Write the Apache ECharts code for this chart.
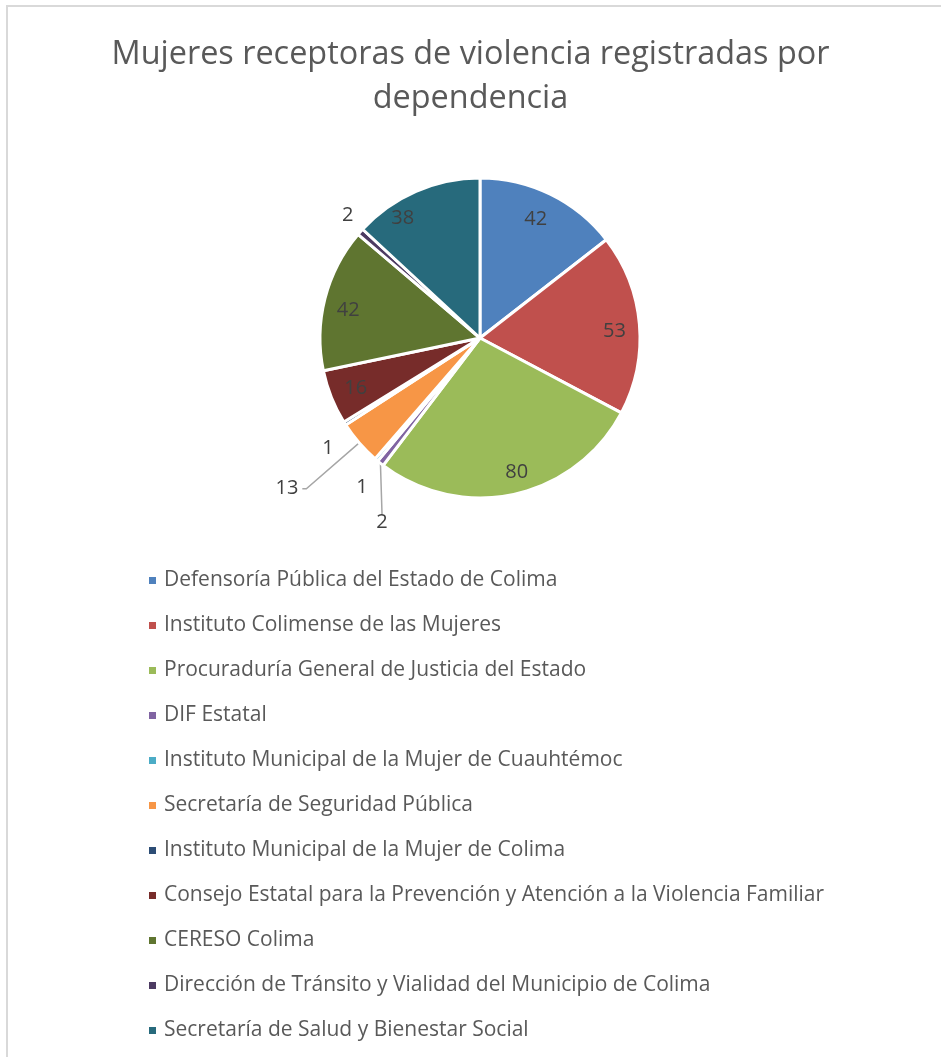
<!DOCTYPE html>
<html><head><meta charset="utf-8">
<script src="https://cdn.jsdelivr.net/npm/echarts@6/dist/echarts.min.js"></script>
<style>
html,body{margin:0;padding:0;background:#fff;}
#frame{position:absolute;left:6px;top:5px;width:935px;height:1052px;border-top:2px solid #d9d9d9;border-left:2px solid #d9d9d9;box-sizing:border-box;}
#chart{position:absolute;left:0;top:0;width:941px;height:1057px;}
</style></head><body>
<div id="frame"></div>
<div id="chart"></div>
<script>
const titleLines = ['Mujeres receptoras de violencia registradas por', 'dependencia'];
const categories = [
  'Defensoría Pública del Estado de Colima',
  'Instituto Colimense de las Mujeres',
  'Procuraduría General de Justicia del Estado',
  'DIF Estatal',
  'Instituto Municipal de la Mujer de Cuauhtémoc',
  'Secretaría de Seguridad Pública',
  'Instituto Municipal de la Mujer de Colima',
  'Consejo Estatal para la Prevención y Atención a la Violencia Familiar',
  'CERESO Colima',
  'Dirección de Tránsito y Vialidad del Municipio de Colima',
  'Secretaría de Salud y Bienestar Social'
];
const values = [42, 53, 80, 2, 1, 13, 1, 16, 42, 2, 38];
const colors = ['#4F81BD', '#C0504D', '#9BBB59', '#8064A2', '#4BACC6', '#F79646',
                '#2C4D75', '#772C2A', '#5F7530', '#4D3B62', '#276A7C'];

// layout / label placement styling (not data)
const CX = 480, CY = 338, R = 160;
const insideLabels = new Set([0, 1, 2, 7, 8, 10]);
const leaderLines = {3: {length: 30, length2: 0}, 5: {length: 70, length2: 4}};
const verticalLeader = new Set([3]);
const labelShift = {0: [-5, 5], 1: [-3, 5], 2: [7, 0], 3: [30, 36], 4: [3, 18], 6: [3, 18],
                    7: [4, -1], 8: [2, 6], 9: [6, -9], 10: [-22, 7]};

const FONT = 'Open Sans';
const chart = echarts.init(document.getElementById('chart'), null, {renderer: 'canvas'});

const total = values.reduce((a, b) => a + b, 0);
function midAngle(i) {
  let before = 0;
  for (let k = 0; k < i; k++) before += values[k];
  return (before + values[i] / 2) / total * 2 * Math.PI; // clockwise from top
}

const labelData = categories.map((name, i) => {
  const inside = insideLabels.has(i);
  const ll = leaderLines[i];
  return {
    name: name,
    value: values[i],
    label: {position: inside ? 'inside' : 'outside'},
    labelLine: ll ? {show: true, length: ll.length, length2: ll.length2} : {show: false, length: 12, length2: 0}
  };
});

chart.setOption({
  animation: false,
  color: colors,
  title: {
    text: titleLines.join('\n'),
    left: 'center',
    top: 28,
    textStyle: {fontFamily: FONT, fontSize: 32.4, fontWeight: 'normal', color: '#595959', lineHeight: 44}
  },
  legend: {
    data: categories,
    orient: 'vertical',
    left: 147,
    top: 570,
    padding: 0,
    itemWidth: 9,
    itemHeight: 9,
    itemGap: 24,
    icon: 'rect',
    selectedMode: false,
    textStyle: {fontFamily: FONT, fontSize: 21, color: '#595959', lineHeight: 21, padding: [0, 0, 0, 2]}
  },
  series: [
    {
      type: 'pie',
      center: [CX, CY],
      radius: [0, R],
      startAngle: 90,
      clockwise: true,
      avoidLabelOverlap: false,
      label: {show: false},
      labelLine: {show: false},
      emphasis: {disabled: true},
      itemStyle: {borderColor: '#ffffff', borderWidth: 3},
      data: categories.map((n, i) => ({name: n, value: values[i]}))
    },
    {
      type: 'pie',
      center: [CX, CY],
      radius: [110, R],
      startAngle: 90,
      clockwise: true,
      silent: true,
      legendHoverLink: false,
      avoidLabelOverlap: false,
      emphasis: {disabled: true},
      itemStyle: {color: 'rgba(0,0,0,0)', borderWidth: 0},
      label: {show: true, formatter: '{c}', fontFamily: FONT, fontSize: 20, color: '#404040', distanceToLabelLine: 4},
      labelLine: {lineStyle: {color: '#A6A6A6', width: 1.5}},
      labelLayout: function (p) {
        const s = labelShift[p.dataIndex] || [0, 0];
        const out = {dx: s[0], dy: s[1], hideOverlap: false};
        if (verticalLeader.has(p.dataIndex)) {
          const a = midAngle(p.dataIndex);
          const sx = CX + R * Math.sin(a), sy = CY - R * Math.cos(a);
          const lr = p.labelRect;
          const ex = lr.x + s[0] + lr.width / 2, ey = lr.y + s[1] + 2;
          out.labelLinePoints = [[sx, sy], [ex, ey], [ex, ey]];
        }
        return out;
      },
      data: labelData
    }
  ]
});
</script>
</body></html>
